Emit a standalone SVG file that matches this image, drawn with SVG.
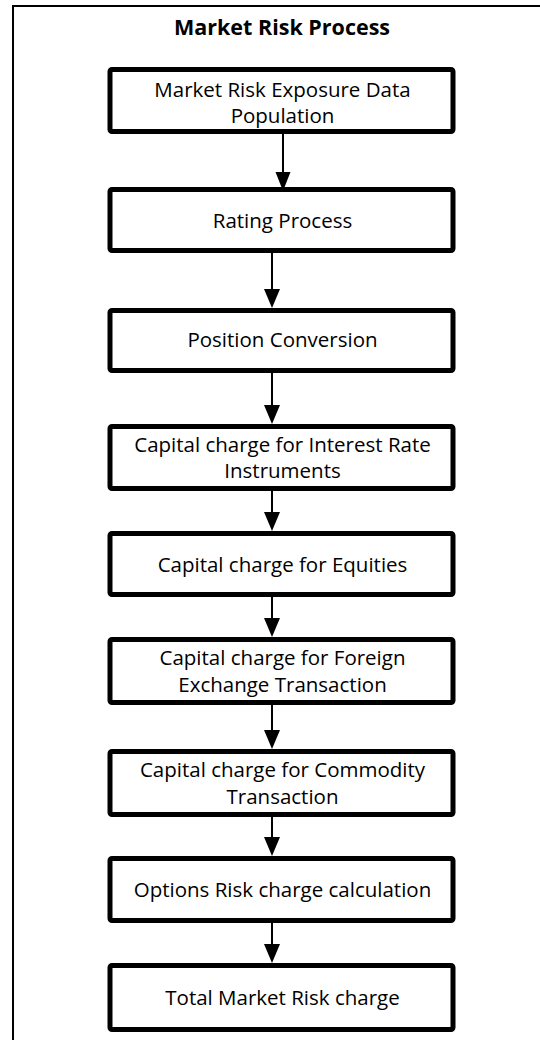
<svg xmlns="http://www.w3.org/2000/svg" width="540" height="1040" viewBox="0 0 540 1040">
<style>
.frame{fill:none;stroke:#000;stroke-width:2}
.box rect{fill:#fff;stroke:#000;stroke-width:5;stroke-linejoin:round}
.box text, .title{font-family:"Open Sans","Noto Sans",sans-serif;font-size:20.5px;fill:#000;text-anchor:middle}
.title{font-weight:bold;font-size:21.5px}
.conn line{stroke:#000;stroke-width:2}
.conn polygon{fill:#000}
</style>
<rect width="540" height="1040" fill="#fff"/>
<rect class="frame" x="13" y="6" width="600" height="1100"/>
<text class="title" x="282" y="35">Market Risk Process</text>
<g id="n1" class="box"><rect x="110" y="69.5" width="343" height="62" rx="2"/><text x="282.5" y="97">Market Risk Exposure Data</text><text x="282.5" y="123">Population</text></g>
<g id="n2" class="box"><rect x="110" y="189.5" width="343" height="61" rx="2"/><text x="282.5" y="228">Rating Process</text></g>
<g id="n3" class="box"><rect x="110" y="310.5" width="343" height="60" rx="2"/><text x="282.5" y="347">Position Conversion</text></g>
<g id="n4" class="box"><rect x="110" y="426.5" width="343" height="62" rx="2"/><text x="282.5" y="452">Capital charge for Interest Rate</text><text x="282.5" y="478">Instruments</text></g>
<g id="n5" class="box"><rect x="110" y="533.5" width="343" height="61" rx="2"/><text x="282.5" y="572">Capital charge for Equities</text></g>
<g id="n6" class="box"><rect x="110" y="639.5" width="343" height="63" rx="2"/><text x="282.5" y="665">Capital charge for Foreign</text><text x="282.5" y="692">Exchange Transaction</text></g>
<g id="n7" class="box"><rect x="110" y="751.5" width="343" height="63" rx="2"/><text x="282.5" y="777">Capital charge for Commodity</text><text x="282.5" y="804">Transaction</text></g>
<g id="n8" class="box"><rect x="110" y="858.5" width="343" height="62" rx="2"/><text x="282.5" y="897">Options Risk charge calculation</text></g>
<g id="n9" class="box"><rect x="110" y="965.5" width="343" height="64" rx="2"/><text x="282.5" y="1005">Total Market Risk charge</text></g>
<g id="connectors" class="conn">
<line x1="283" y1="134" x2="283" y2="175"/><polygon points="275.5,172 290.5,172 283,191"/>
<line x1="272" y1="253" x2="272" y2="292"/><polygon points="264,289 280,289 272,308"/>
<line x1="272" y1="373" x2="272" y2="408"/><polygon points="264,405 280,405 272,424"/>
<line x1="272" y1="491" x2="272" y2="515"/><polygon points="264,512 280,512 272,531"/>
<line x1="272" y1="597" x2="272" y2="621"/><polygon points="264,618 280,618 272,637"/>
<line x1="272" y1="705" x2="272" y2="733"/><polygon points="264,730 280,730 272,749"/>
<line x1="272" y1="817" x2="272" y2="840"/><polygon points="264,837 280,837 272,856"/>
<line x1="272" y1="923" x2="272" y2="947"/><polygon points="264,944 280,944 272,963"/>
</g>
</svg>
